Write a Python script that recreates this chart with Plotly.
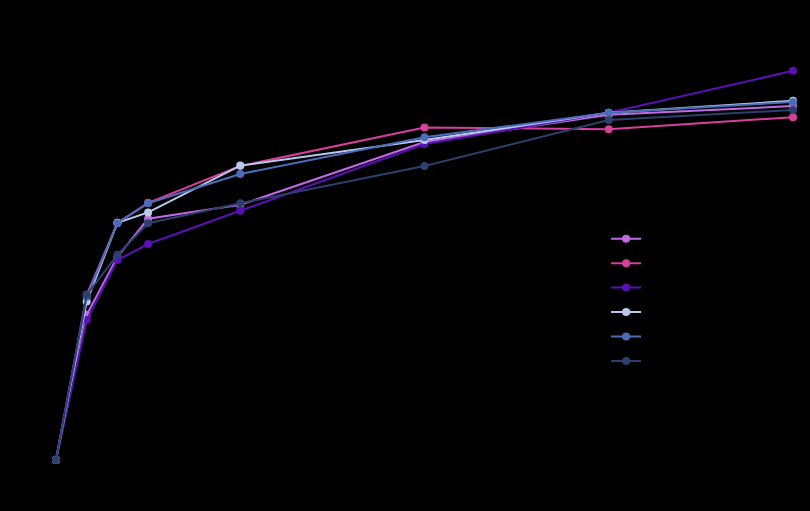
import plotly.graph_objects as go

# x positions (months)
months = [0, 1, 2, 3, 6, 12, 18, 24]

# series values
names = ["Series A", "Series B", "Series C", "Series D", "Series E", "Series F"]
series_a = [0, 36.3, 50.8, 60.3, 63.8, 79.5, 86.3, 88.5]
series_b = [0, 41.3, 59.3, 64.3, 73.5, 83.1, 82.7, 85.7]
series_c = [0, 35.0, 50.0, 54.0, 62.3, 79.0, 86.8, 97.3]
series_d = [0, 39.6, 59.3, 61.9, 73.6, 80.0, 86.8, 89.8]
series_e = [0, 40.8, 59.2, 64.2, 71.5, 80.7, 86.8, 89.5]
series_f = [0, 41.3, 51.3, 59.2, 64.2, 73.5, 85.0, 87.5]

colors = ["#c26ae6", "#d63f9c", "#5a10b4", "#b8c9ec", "#4b6db9", "#2c406d"]

fig = go.Figure()
for name, vals, col in zip(names, [series_a, series_b, series_c, series_d, series_e, series_f], colors):
    fig.add_trace(go.Scatter(
        x=months, y=vals, mode="lines+markers", name=name,
        line=dict(color=col, width=2),
        marker=dict(color=col, size=8),
        cliponaxis=False,
    ))

# text is drawn in black on the black background, as in the reference
fig.update_layout(
    width=810, height=511,
    paper_bgcolor="#000000", plot_bgcolor="#000000",
    margin=dict(l=40, r=5, t=40, b=50, autoexpand=False),
    font=dict(family="Open Sans", color="#000000"),
    title=dict(text="Cumulative progress over time", y=0.985, yanchor="top",
               font=dict(color="#000000", size=15)),
    xaxis=dict(title=dict(text="Months", standoff=4), range=[-0.521, 24.39],
               showgrid=False, zeroline=False, showline=False, automargin=False,
               tickfont=dict(color="#000000", size=11)),
    yaxis=dict(title=dict(text="Percent", standoff=4), range=[-0.25, 105],
               showgrid=False, zeroline=False, showline=False, automargin=False,
               tickfont=dict(color="#000000", size=11)),
    legend=dict(x=0.74, y=0.569, xanchor="left", yanchor="top",
                bgcolor="rgba(0,0,0,0)", font=dict(size=16.5, color="#000000")),
)

fig.write_html(
    "out.html",
    config={"displayModeBar": False},
    post_script="document.body.style.margin='0';document.body.style.background='#000';",
)
